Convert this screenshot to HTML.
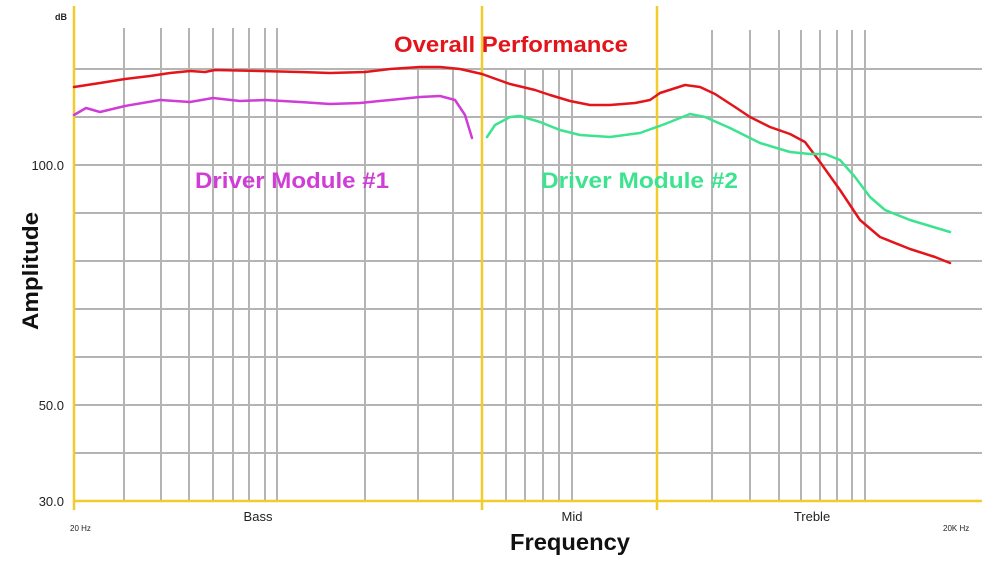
<!DOCTYPE html><html><head><style>body{margin:0;background:#fff}svg{display:block}</style></head><body>
<svg width="1000" height="565" xmlns="http://www.w3.org/2000/svg" font-family="Liberation Sans, sans-serif">
<g stroke="#b4b4b4" stroke-width="2">
<path d="M74 69H982M74 117H982M74 165H982M74 213H982M74 261H982M74 309H982M74 357H982M74 405H982M74 453H982"/>
<path d="M124 28V501M161 28V501M189 28V501M213 28V501M233 28V501M249 28V501M265 28V501M277 28V501M365 69V501M418 69V501M453 69V501M506 69V501M525 69V501M543 69V501M559 69V501M572 69V501M712 30V501M750 30V501M779 30V501M801 30V501M820 30V501M837 30V501M852 30V501M865 30V501"/>
</g>
<g stroke="#f2cc2a" stroke-width="2.5" fill="none">
<path d="M74 6V510M482 6V510M657 6V510M74 501H982"/>
</g>
<g fill="none" stroke-width="2.5" stroke-linejoin="round" stroke-linecap="round">
<polyline stroke="#e3151b" points="74,87 100,83 125,79 150,76 170,73 190,71 205,72 215,70 260,71 300,72 330,73 365,72 390,69 420,67 440,67 460,69 482,74 510,84 535,90 550,95 570,101 590,105 610,105 635,103 650,100 660,93 685,85 700,87 715,94 735,107 750,117 770,127 790,134 805,142 820,162 840,190 860,220 880,237 910,249 935,257 950,263"/>
<polyline stroke="#d03cd6" points="74,115 86,108 100,112 125,106 160,100 190,102 213,98 240,101 265,100 300,102 330,104 360,103 390,100 420,97 440,96 455,100 465,115 472,138"/>
<polyline stroke="#3de38e" points="487,137 495,125 510,117 520,116 540,122 560,130 580,135 610,137 640,133 665,124 690,114 705,117 730,128 760,143 790,152 810,154 825,154 840,160 855,177 870,197 885,210 910,220 930,226 950,232"/>
</g>
<g font-weight="bold">
<text x="394" y="52" font-size="22" fill="#e3151b" textLength="234" lengthAdjust="spacingAndGlyphs">Overall Performance</text>
<text x="195" y="188" font-size="22" fill="#d03cd6" textLength="194" lengthAdjust="spacingAndGlyphs">Driver Module #1</text>
<text x="541" y="188" font-size="22" fill="#3de38e" textLength="197" lengthAdjust="spacingAndGlyphs">Driver Module #2</text>
<text transform="translate(38,271) rotate(-90)" text-anchor="middle" font-size="22" fill="#111" textLength="118" lengthAdjust="spacingAndGlyphs">Amplitude</text>
<text x="570" y="550" text-anchor="middle" font-size="23" fill="#111" textLength="120" lengthAdjust="spacingAndGlyphs">Frequency</text>
<text x="55" y="20" font-size="9" fill="#222">dB</text>
</g>
<g font-size="13" fill="#222">
<text x="64" y="170" text-anchor="end">100.0</text>
<text x="64" y="410" text-anchor="end">50.0</text>
<text x="64" y="506" text-anchor="end">30.0</text>
<text x="258" y="521" text-anchor="middle">Bass</text>
<text x="572" y="521" text-anchor="middle">Mid</text>
<text x="812" y="521" text-anchor="middle">Treble</text>
<text x="70" y="531" font-size="8">20 Hz</text>
<text x="943" y="531" font-size="8">20K Hz</text>
</g>
</svg></body></html>
